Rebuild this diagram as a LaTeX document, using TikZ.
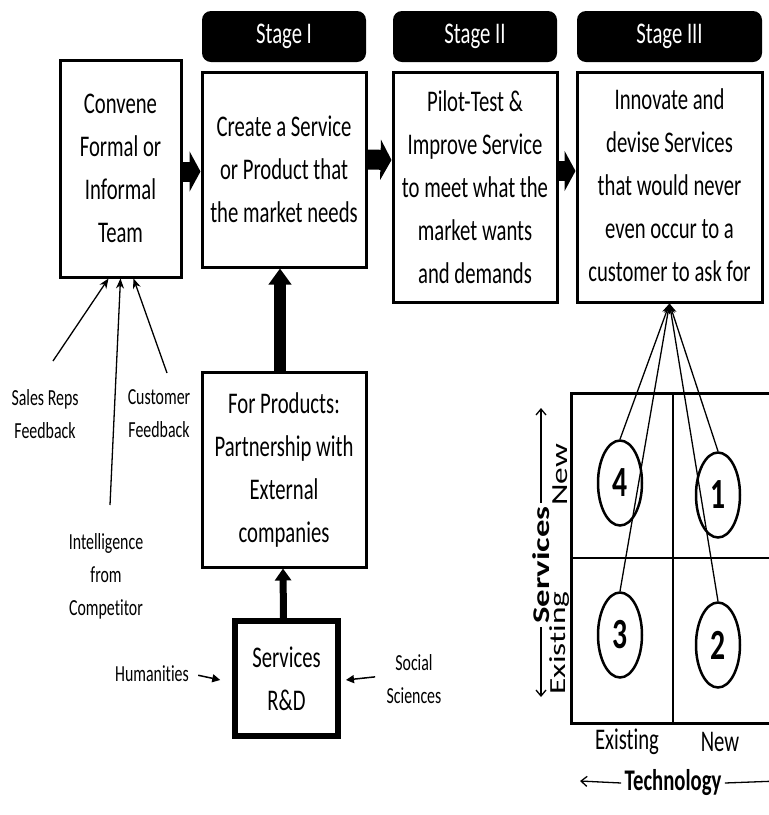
\documentclass[tikz,border=0pt]{standalone}
\usepackage{fontspec}
\setmainfont{Carlito}[FakeStretch=0.69, Ligatures=NoCommon]
\newfontfamily\tallfont{Carlito}[FakeStretch=1.45, Ligatures=NoCommon]
\usetikzlibrary{arrows.meta, positioning, shapes.geometric}

\tikzset{
  stagebox/.style={draw, line width=3pt, align=center, inner sep=0pt,
    font=\fontsize{30}{43}\selectfont},
  stagehead/.style={fill=black, rounded corners=9pt, text=white, inner sep=0pt,
    minimum height=51pt, font=\fontsize{30}{36}\selectfont},
  note/.style={align=center, font=\fontsize{23}{33}\selectfont},
  flowarrow/.style={line width=20pt, -{Triangle[length=11pt,width=40pt]}},
  feedarrow/.style={line width=1.3pt, -{Stealth[length=10pt,width=8pt]}},
  axisarrow/.style={line width=1.3pt, -{Straight Barb[length=6pt,width=10pt]}},
  quad/.style={draw, ellipse, line width=2.5pt, inner sep=0pt,
    minimum width=44pt, minimum height=85pt,
    font=\bfseries\fontsize{43}{43}\selectfont},
  axislabel/.style={font=\fontsize{30}{30}\selectfont},
  sidelabel/.style={rotate=90, font=\tallfont\fontsize{23}{23}\selectfont}
}

\begin{document}
\begin{tikzpicture}[x=1pt, y=-1pt]
  \useasboundingbox (0,0) rectangle (769,815);

  % stage headers
  \node[stagehead, minimum width=164pt] (headI) at (284,36.5) {Stage I};
  \node[stagehead, minimum width=164pt] (headII) at (475,36.5) {Stage II};
  \node[stagehead, minimum width=185pt] (headIII) at (669.5,36.5) {Stage III};

  % main boxes
  \node[stagebox, minimum width=121pt, minimum height=217pt] (team) at (120.5,168.5)
    {Convene\\Formal or\\Informal\\Team};
  \node[stagebox, minimum width=164pt, minimum height=195pt] (create) at (284,169.5)
    {Create a Service\\or Product that\\the market needs};
  \node[stagebox, minimum width=164pt, minimum height=230pt] (pilot) at (475,187)
    {Pilot-Test \&\\Improve Service\\to meet what the\\market wants\\and demands};
  \node[stagebox, minimum width=185pt, minimum height=230pt] (innovate) at (669.5,187)
    {\raisebox{9pt}{\begin{tabular}{@{}c@{}}Innovate and\\devise Services\\that would never\\even occur to a\\customer to ask for\end{tabular}}};
  \node[stagebox, minimum width=164pt, minimum height=195pt] (products) at (284,469.5)
    {For Products:\\Partnership with\\External\\companies};
  \node[stagebox, line width=6pt, minimum width=103pt, minimum height=115pt] (rnd) at (286.5,678.5)
    {Services\\R\&D};

  \draw[flowarrow] ([yshift=-3pt]team.east) -- ([yshift=-2pt]create.west);
  \draw[flowarrow] ([yshift=10pt]create.east) -- ([yshift=27pt]pilot.west);
  \draw[flowarrow] ([yshift=16pt]pilot.east) -- ([yshift=16pt]innovate.west);
  \draw[line width=12pt, -{Triangle[length=16pt,width=22pt]}]
    ([xshift=-4pt]products.north) -- ([xshift=-4pt]create.south);
  \draw[line width=7pt, -{Triangle[length=12pt,width=16pt]}]
    ([xshift=-3pt]rnd.north) -- ([xshift=-1pt]products.south);

  % inputs to the team
  \node[note] (sales) at (45,414) {Sales Reps\\Feedback};
  \node[note] (customer) at (159,414) {Customer\\Feedback};
  \node[note] (intel) at (106,576) {Intelligence\\from\\Competitor};
  \coordinate (salesEnd) at (53,361);
  \coordinate (intelEnd) at (110,505);
  \coordinate (customerEnd) at (167,373);
  \draw[feedarrow] (salesEnd) -- ([xshift=-12pt]team.south);
  \draw[feedarrow] (intelEnd) -- (team.south);
  \draw[feedarrow] (customerEnd) -- ([xshift=13pt]team.south);

  % inputs to services R&D
  \node[note] (hum) at (152,674) {Humanities};
  \node[note] (soc) at (414,679) {Social\\Sciences};
  \draw[line width=1.5pt, -{Triangle[length=8pt,width=8pt]}, shorten <=6pt, shorten >=12pt]
    (hum.east) -- ([yshift=-4pt]rnd.west);
  \draw[line width=1.5pt, -{Triangle[length=8pt,width=8pt]}, shorten <=8pt, shorten >=5pt]
    ([yshift=3pt]soc.west) -- ([yshift=-2pt]rnd.east);

  % matrix
  \draw[line width=3pt] (790,393) -- (571,393) -- (571,723) -- (790,723);
  \draw[line width=1.2pt] (673,393) -- (673,723);
  \draw[line width=1.2pt] (571,558) -- (790,558);

  \node[quad] (q4) at (620,483) {4};
  \node[quad] (q1) at (718,495) {1};
  \node[quad] (q3) at (620,635) {3};
  \node[quad] (q2) at (718,645) {2};
  \draw[feedarrow] (q4.north) -- (innovate.south);
  \draw[feedarrow] (q3.north) -- (innovate.south);
  \draw[feedarrow] (q1.north) -- (innovate.south);
  \draw[feedarrow] (q2.north) -- (innovate.south);

  \node[sidelabel] (newS) at (560,475) {New};
  \node[sidelabel] (oldS) at (560,643) {Existing};
  \node[sidelabel, font=\tallfont\bfseries\fontsize{24}{24}\selectfont] (svc) at (541,565) {Services};
  \coordinate (svcUp) at (541,408);
  \coordinate (svcDown) at (541,697);
  \draw[axisarrow] (svc.east) -- (svcUp);
  \draw[axisarrow] (svc.west) -- (svcDown);

  \node[axislabel] (oldT) at (627,742) {Existing};
  \node[axislabel] (newT) at (720,742) {New};
  \node[axislabel, font=\bfseries\fontsize{30}{30}\selectfont] (tech) at (673,783) {Technology};
  \coordinate (techLeft) at (580,781);
  \coordinate (techRight) at (778,781);
  \draw[axisarrow] (tech.west) -- (techLeft);
  \draw[axisarrow] (tech.east) -- (techRight);
\end{tikzpicture}
\end{document}
